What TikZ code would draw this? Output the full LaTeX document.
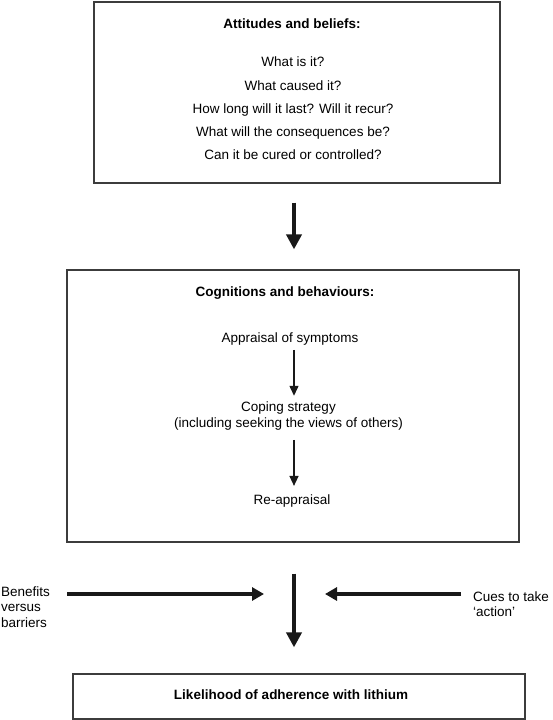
\documentclass[tikz,border=0pt]{standalone}
\usepackage{fontspec}
\setmainfont{Liberation Sans}
\usetikzlibrary{arrows.meta,positioning}
\definecolor{boxline}{RGB}{60,60,60}
\definecolor{arrowink}{RGB}{25,25,25}

\begin{document}
\begin{tikzpicture}[
    x=1pt, y=-1pt,
    every node/.style={font=\fontsize{13.5}{15.5}\selectfont, inner sep=0pt},
    box/.style={draw=boxline, line width=1.2pt, rectangle},
    boxtitle/.style={font=\fontsize{13.5}{15.5}\selectfont\bfseries},
    bigarrow/.style={-{Triangle[length=15pt,width=15pt]}, line width=4pt, arrowink},
    sidearrow/.style={-{Triangle[length=12pt,width=13pt]}, line width=4pt, arrowink},
    arrow/.style={-{Triangle[length=10pt,width=9pt]}, line width=1.4pt, arrowink}
  ]
    \useasboundingbox (0,0) rectangle (553,720);

    \node[box, minimum width=406pt, minimum height=181pt] (beliefs) at (297,92.5) {};
    \node[boxtitle] (beliefstitle) at (292,24) {Attitudes and beliefs:};
    \node[align=center, font=\fontsize{13.5}{23.25}\selectfont] (questions) at (293,108.5) {What is it?\\What caused it?\\How long will it last? Will it recur?\\What will the consequences be?\\Can it be cured or controlled?};

    \node[box, minimum width=452pt, minimum height=272pt] (cognitions) at (293,406) {};
    \node[boxtitle] (cogtitle) at (285,293) {Cognitions and behaviours:};
    \node (appraisal) at (290,339) {Appraisal of symptoms};
    \node[align=center] (coping) at (288.5,416) {Coping strategy\\(including seeking the views of others)};
    \node (reappraisal) at (292,501.4) {Re-appraisal};

    \node[box, minimum width=452pt, minimum height=45pt] (likelihood) at (299,696.5) {};
    \node[boxtitle] (likelihoodtext) at (291,695) {Likelihood of adherence with lithium};

    \node[align=left, anchor=west] (benefits) at (1,607) {Benefits\\versus\\barriers};
    \node[align=left, anchor=west] (cues) at (473,604) {Cues to take\\`action'};

    \coordinate (axis) at (294,0);
    \coordinate (meet) at (294,594);

    \draw[bigarrow, shorten <=19pt, shorten >=20pt] (beliefs.south -| axis) -- (cognitions.north -| axis);
    \draw[arrow, shorten <=4.5pt, shorten >=6pt] (appraisal.south -| axis) -- (coping.north -| axis);
    \draw[arrow, shorten <=9.7pt, shorten >=9pt] (coping.south -| axis) -- (reappraisal.north -| axis);
    \draw[bigarrow, shorten <=31pt, shorten >=26pt] (cognitions.south -| axis) -- (likelihood.north -| axis);
    \draw[sidearrow, shorten <=17pt, shorten >=30pt] (benefits.east |- meet) -- (meet);
    \draw[sidearrow, shorten <=12pt, shorten >=31pt] (cues.west |- meet) -- (meet);
  \end{tikzpicture}
\end{document}
